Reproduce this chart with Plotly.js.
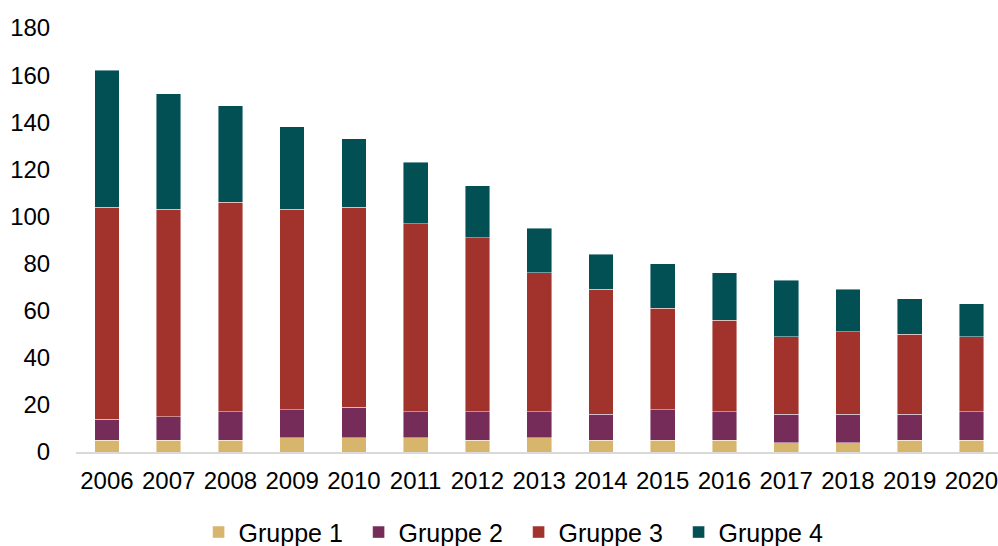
<!DOCTYPE html>
<html>
<head>
<meta charset="utf-8">
<script src="https://cdn.plot.ly/plotly-3.0.1.min.js"></script>
<style>html,body{margin:0;padding:0;background:#fff;}#chart{width:998px;height:546px;}</style>
</head>
<body>
<div id="chart"></div>
<script>
const years = ["2006","2007","2008","2009","2010","2011","2012","2013","2014","2015","2016","2017","2018","2019","2020"];
const gruppe1 = [5, 5, 5, 6, 6, 6, 5, 6, 5, 5, 5, 4, 4, 5, 5];
const gruppe2 = [9, 10, 12, 12, 13, 11, 12, 11, 11, 13, 12, 12, 12, 11, 12];
const gruppe3 = [90, 88, 89, 85, 85, 80, 74, 59, 53, 43, 39, 33, 35, 34, 32];
const gruppe4 = [58, 49, 41, 35, 29, 26, 22, 19, 15, 19, 20, 24, 18, 15, 14];
const seriesNames = ["Gruppe 1", "Gruppe 2", "Gruppe 3", "Gruppe 4"];
const colors = ["#D8B56C", "#762C59", "#A1322C", "#024F54"];
const yTicks = [0, 20, 40, 60, 80, 100, 120, 140, 160, 180];

const allSeries = [gruppe1, gruppe2, gruppe3, gruppe4];
const traces = allSeries.map((vals, i) => ({
  type: "bar",
  name: seriesNames[i],
  x: years,
  y: vals,
  marker: {color: colors[i], line: {color: "rgba(255,255,255,0.55)", width: 0.8}},
  hoverinfo: "x+y+name"
}));

const layout = {
  width: 998,
  height: 546,
  margin: {l: 76, r: 0, t: 28, b: 94, pad: 0},
  barmode: "stack",
  bargap: 0.6,
  paper_bgcolor: "#ffffff",
  plot_bgcolor: "#ffffff",
  font: {family: "Liberation Sans, Arial, sans-serif", size: 24, color: "#000000"},
  showlegend: true,
  legend: {
    orientation: "h",
    xref: "container",
    yref: "container",
    x: 0.199,
    xanchor: "left",
    y: 0.025,
    yanchor: "middle",
    entrywidth: 115,
    entrywidthmode: "pixels",
    font: {size: 25, color: "#000000"},
    traceorder: "normal",
    itemclick: false
  },
  xaxis: {
    type: "category",
    range: [-0.5, 14.43],
    showgrid: false,
    zeroline: false,
    showline: true,
    linecolor: "#D9D9D9",
    linewidth: 2,
    ticks: "outside",
    ticklen: 6,
    tickcolor: "rgba(0,0,0,0)",
    tickfont: {size: 24, color: "#000000"}
  },
  yaxis: {
    range: [0, 180],
    tickvals: yTicks,
    ticktext: yTicks.map(String),
    showgrid: false,
    zeroline: false,
    showline: false,
    ticks: "outside",
    ticklen: 20,
    tickcolor: "rgba(0,0,0,0)",
    tickfont: {size: 24, color: "#000000"}
  }
};

Plotly.newPlot("chart", traces, layout, {displayModeBar: false, staticPlot: true});
</script>
</body>
</html>
